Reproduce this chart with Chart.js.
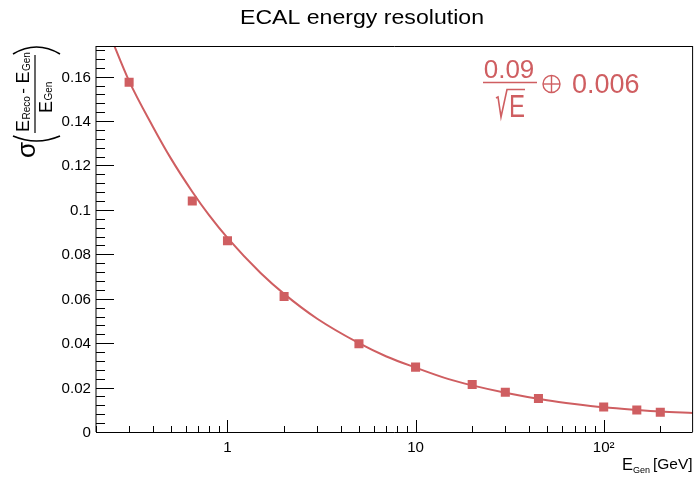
<!DOCTYPE html>
<html>
<head>
<meta charset="utf-8">
<title>ECAL energy resolution</title>
<script src="https://cdn.jsdelivr.net/npm/chart.js@4.4.0/dist/chart.umd.min.js"></script>
<style>
  html, body { margin: 0; padding: 0; background: #fff; }
  canvas { display: block; }
</style>
</head>
<body>
<canvas id="resChart" width="699" height="478"></canvas>
<script>
// ── Data ─────────────────────────────────────────────────────
// measured points: generated energy [GeV] vs relative resolution
const energies    = [0.3, 0.65, 1, 2, 5, 10, 20, 30, 45, 100, 150, 200];
const resolutions = [0.1575, 0.104, 0.0861, 0.0610, 0.0397, 0.0292, 0.0214, 0.0179, 0.0151, 0.0113, 0.0099, 0.0089];

// fit curve, sampled along the energy range
const fitEnergies = [0.2, 0.25, 0.3, 0.4, 0.5, 0.65, 0.8, 1, 1.5, 2, 3, 5, 7, 10, 15, 20, 30, 50, 70, 100, 150, 200, 300];
const fitValues   = [0.195, 0.174, 0.158, 0.1377, 0.1232, 0.1082, 0.0975, 0.0874, 0.0716, 0.0622, 0.0510, 0.0400,
                     0.0340, 0.0290, 0.0238, 0.0210, 0.0177, 0.0143, 0.0126, 0.0111, 0.0099, 0.0092, 0.0086];

// fit parameters as printed
const fitStochastic = '0.09';
const fitConstant   = '0.006';

// axes
const yMajorTicks = [0, 0.02, 0.04, 0.06, 0.08, 0.1, 0.12, 0.14, 0.16];
const yTickLabels = ['0', '0.02', '0.04', '0.06', '0.08', '0.1', '0.12', '0.14', '0.16'];
const xMajorTicks = [1, 10, 100];
const xTickLabels = ['1', '10', '10²'];

const X_MIN = 0.2, X_MAX = 297;
const Y_MIN = 0,   Y_MAX = 0.1738;

const RED  = '#cf5e61';
const FONT = "'Liberation Sans', Arial, Helvetica, sans-serif";

// ── Helpers ──────────────────────────────────────────────────
function txt(ctx, s, x, y, size, align, sx, color) {
  ctx.save();
  ctx.font = size + 'px ' + FONT;
  ctx.fillStyle = color || '#000';
  ctx.textAlign = align || 'left';
  ctx.textBaseline = 'alphabetic';
  ctx.translate(x, y);
  ctx.scale(sx || 1, 1);
  ctx.fillText(s, 0, 0);
  ctx.restore();
}

function seg(ctx, x1, y1, x2, y2) {
  ctx.beginPath(); ctx.moveTo(x1, y1); ctx.lineTo(x2, y2); ctx.stroke();
}

// ── Frame, ticks and labels drawn ROOT-style ─────────────────
const rootFrame = {
  id: 'rootFrame',
  afterDraw(chart) {
    const { ctx, chartArea: a, scales: { x, y } } = chart;
    ctx.save();
    ctx.strokeStyle = '#000';
    ctx.lineWidth = 1;

    // frame
    seg(ctx, a.left, a.top, a.left, a.bottom);
    seg(ctx, a.right, a.top, a.right, a.bottom);
    seg(ctx, a.left, a.top + 0.5, a.right, a.top + 0.5);
    seg(ctx, a.left, a.bottom + 0.5, a.right, a.bottom + 0.5);

    // y ticks (pointing inward), minor every 0.004
    for (let v = 0; v <= Y_MAX + 1e-9; v += 0.004) {
      const py = Math.round(y.getPixelForValue(v)) + 0.5;
      const major = Math.abs(v / 0.02 - Math.round(v / 0.02)) < 1e-6;
      seg(ctx, a.left, py, a.left + (major ? 18 : 9), py);
    }
    yMajorTicks.forEach((v, i) => {
      const py = y.getPixelForValue(v);
      txt(ctx, yTickLabels[i], 91, py + 5, 14, 'right', 1.08);
    });

    // x ticks: decades long, 2..9 short
    for (let e = -1; e <= 2; e++) {
      for (let m = 1; m <= 9; m++) {
        const v = m * Math.pow(10, e);
        if (v < X_MIN || v > X_MAX) continue;
        const px = Math.round(x.getPixelForValue(v)) + 0.5;
        seg(ctx, px, a.bottom, px, a.bottom - (m === 1 ? 12 : 6));
      }
    }
    xMajorTicks.forEach((v, i) => {
      txt(ctx, xTickLabels[i], x.getPixelForValue(v), 452, 14, 'center', 1.08);
    });

    // x title
    txt(ctx, 'E', 622, 470, 16.5, 'left');
    txt(ctx, 'Gen', 633, 473, 9, 'left');
    txt(ctx, '[GeV]', 653, 469, 15.5, 'left');

    // title
    txt(ctx, 'ECAL energy resolution', 362, 24, 21, 'center', 1.1);

    // y title: sigma of (E_Reco - E_Gen) / E_Gen, rotated
    ctx.save();
    ctx.translate(35, 158);
    ctx.rotate(-Math.PI / 2);
    txt(ctx, 'σ', 0, 0, 26, 'left');
    ctx.lineWidth = 1.6;
    ctx.beginPath(); ctx.moveTo(22, -22); ctx.quadraticCurveTo(12, 1.5, 22, 25); ctx.stroke();
    ctx.beginPath(); ctx.moveTo(104, -22); ctx.quadraticCurveTo(118, 1.5, 104, 25); ctx.stroke();
    txt(ctx, 'E', 26, -6, 18, 'left');
    txt(ctx, 'Reco', 38.5, -5.5, 10, 'left');
    txt(ctx, '-', 67, -7, 17, 'center');
    txt(ctx, 'E', 74.5, -6, 18, 'left');
    txt(ctx, 'Gen', 87, -5.5, 10, 'left');
    ctx.lineWidth = 1.2;
    seg(ctx, 25, 0, 103, 0);
    txt(ctx, 'E', 45, 17, 18, 'left');
    txt(ctx, 'Gen', 57.5, 17, 10, 'left');
    ctx.restore();

    // fit formula
    ctx.strokeStyle = RED;
    ctx.lineWidth = 1.6;
    txt(ctx, fitStochastic, 509, 78, 26, 'center', 1, RED);
    seg(ctx, 483, 82.5, 537, 82.5);
    ctx.beginPath();
    ctx.moveTo(496, 98); ctx.lineTo(498, 97);
    ctx.lineTo(501, 117); ctx.lineTo(507, 89.5); ctx.lineTo(525, 89.5);
    ctx.stroke();
    ctx.save();
    ctx.font = '24px ' + FONT;
    ctx.fillStyle = RED;
    ctx.translate(509, 117);
    ctx.scale(1, 1.28);
    ctx.fillText('E', 0, 0);
    ctx.restore();
    ctx.lineWidth = 1.4;
    ctx.beginPath(); ctx.arc(551.5, 84, 8.5, 0, Math.PI * 2); ctx.stroke();
    seg(ctx, 543, 84, 560, 84);
    seg(ctx, 551.5, 75.5, 551.5, 92.5);
    txt(ctx, fitConstant, 572, 93, 27, 'left', 1, RED);

    ctx.restore();
  }
};

// ── Chart ────────────────────────────────────────────────────
new Chart(document.getElementById('resChart'), {
  type: 'scatter',
  data: {
    datasets: [
      {
        label: 'points',
        data: energies.map((e, i) => ({ x: e, y: resolutions[i] })),
        pointStyle: 'rect',
        pointRadius: 6.4,
        backgroundColor: RED,
        borderWidth: 0
      },
      {
        label: 'fit',
        data: fitEnergies.map((e, i) => ({ x: e, y: fitValues[i] })),
        showLine: true,
        borderColor: RED,
        borderWidth: 2,
        pointRadius: 0,
        cubicInterpolationMode: 'monotone',
        capBezierPoints: false
      }
    ]
  },
  options: {
    responsive: false,
    animation: false,
    devicePixelRatio: 1,
    layout: { padding: { left: 96, right: 5, top: 46, bottom: 46 } },
    scales: {
      x: { type: 'logarithmic', display: false, min: X_MIN, max: X_MAX },
      y: { type: 'linear', display: false, min: Y_MIN, max: Y_MAX }
    },
    plugins: {
      legend: { display: false },
      tooltip: { enabled: false }
    }
  },
  plugins: [rootFrame]
});
</script>
</body>
</html>
